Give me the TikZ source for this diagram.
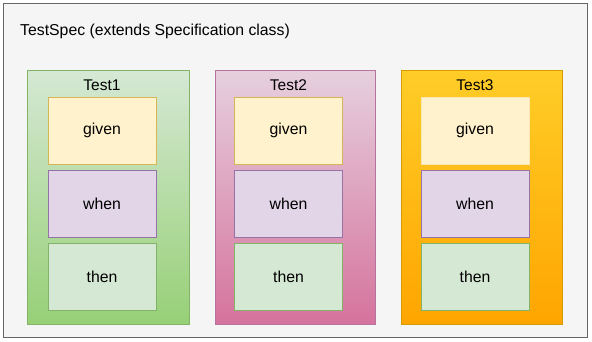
\documentclass[tikz,border=0pt]{standalone}
\usepackage{fontspec}
\setmainfont{Liberation Sans}
\begin{document}
\begin{tikzpicture}[x=1pt,y=-1pt,
  frame/.style={draw=black!60,fill=black!4,line width=1pt},
  testbox/.style={line width=0.8pt},
  part/.style={minimum width=108pt,minimum height=67pt,line width=0.8pt,font=\fontsize{15.8}{18}\selectfont,inner sep=0pt},
  givenbox/.style={part,fill=givenfill,draw=givendraw},
  whenbox/.style={part,fill=whenfill,draw=whendraw},
  thenbox/.style={part,fill=thenfill,draw=thendraw},
  lbl/.style={font=\fontsize{15.5}{18}\selectfont,inner sep=0pt}
]
\definecolor{givenfill}{HTML}{FFF2CC}
\definecolor{givendraw}{HTML}{D6B656}
\definecolor{whenfill}{HTML}{E1D5E7}
\definecolor{whendraw}{HTML}{9673A6}
\definecolor{thenfill}{HTML}{D5E8D4}
\definecolor{thendraw}{HTML}{82B366}
\definecolor{gtop}{HTML}{D5E8D4}
\definecolor{gbot}{HTML}{97D077}
\definecolor{ptop}{HTML}{E6D0DE}
\definecolor{pbot}{HTML}{D5739D}
\definecolor{pdraw}{HTML}{B5739D}
\definecolor{otop}{HTML}{FFCD28}
\definecolor{obot}{HTML}{FFA500}
\definecolor{odraw}{HTML}{D79B00}
\useasboundingbox (0,0) rectangle (592,341);
\fill[white] (0,0) rectangle (592,341);
\draw[frame] (3,3) rectangle (587,337);
\node[lbl,anchor=west,font=\fontsize{15.8}{18}\selectfont] (title) at (20,31) {TestSpec (extends Specification class)};
% Test1
\shade[top color=gtop,bottom color=gbot] (27,70) rectangle (189,324);
\draw[testbox,draw=thendraw] (27,70) rectangle (189,324);
\node[lbl] (t1) at (102,85) {Test1};
\node[givenbox] (g1) at (102,130.5) {given};
\node[whenbox] (w1) at (102,203.5) {when};
\node[thenbox] (h1) at (102,276.5) {then};
% Test2
\shade[top color=ptop,bottom color=pbot] (215,70) rectangle (375,324);
\draw[testbox,draw=pdraw] (215,70) rectangle (375,324);
\node[lbl] (t2) at (288.5,85) {Test2};
\node[givenbox] (g2) at (288.5,130.5) {given};
\node[whenbox] (w2) at (288.5,203.5) {when};
\node[thenbox] (h2) at (288.5,276.5) {then};
% Test3
\shade[top color=otop,bottom color=obot] (401,70) rectangle (562,324);
\draw[testbox,draw=odraw] (401,70) rectangle (562,324);
\node[lbl] (t3) at (475,85) {Test3};
\node[givenbox,draw=givenfill!80!givendraw] (g3) at (475,130.5) {given};
\node[whenbox] (w3) at (475,203.5) {when};
\node[thenbox] (h3) at (475,276.5) {then};
\end{tikzpicture}
\end{document}
